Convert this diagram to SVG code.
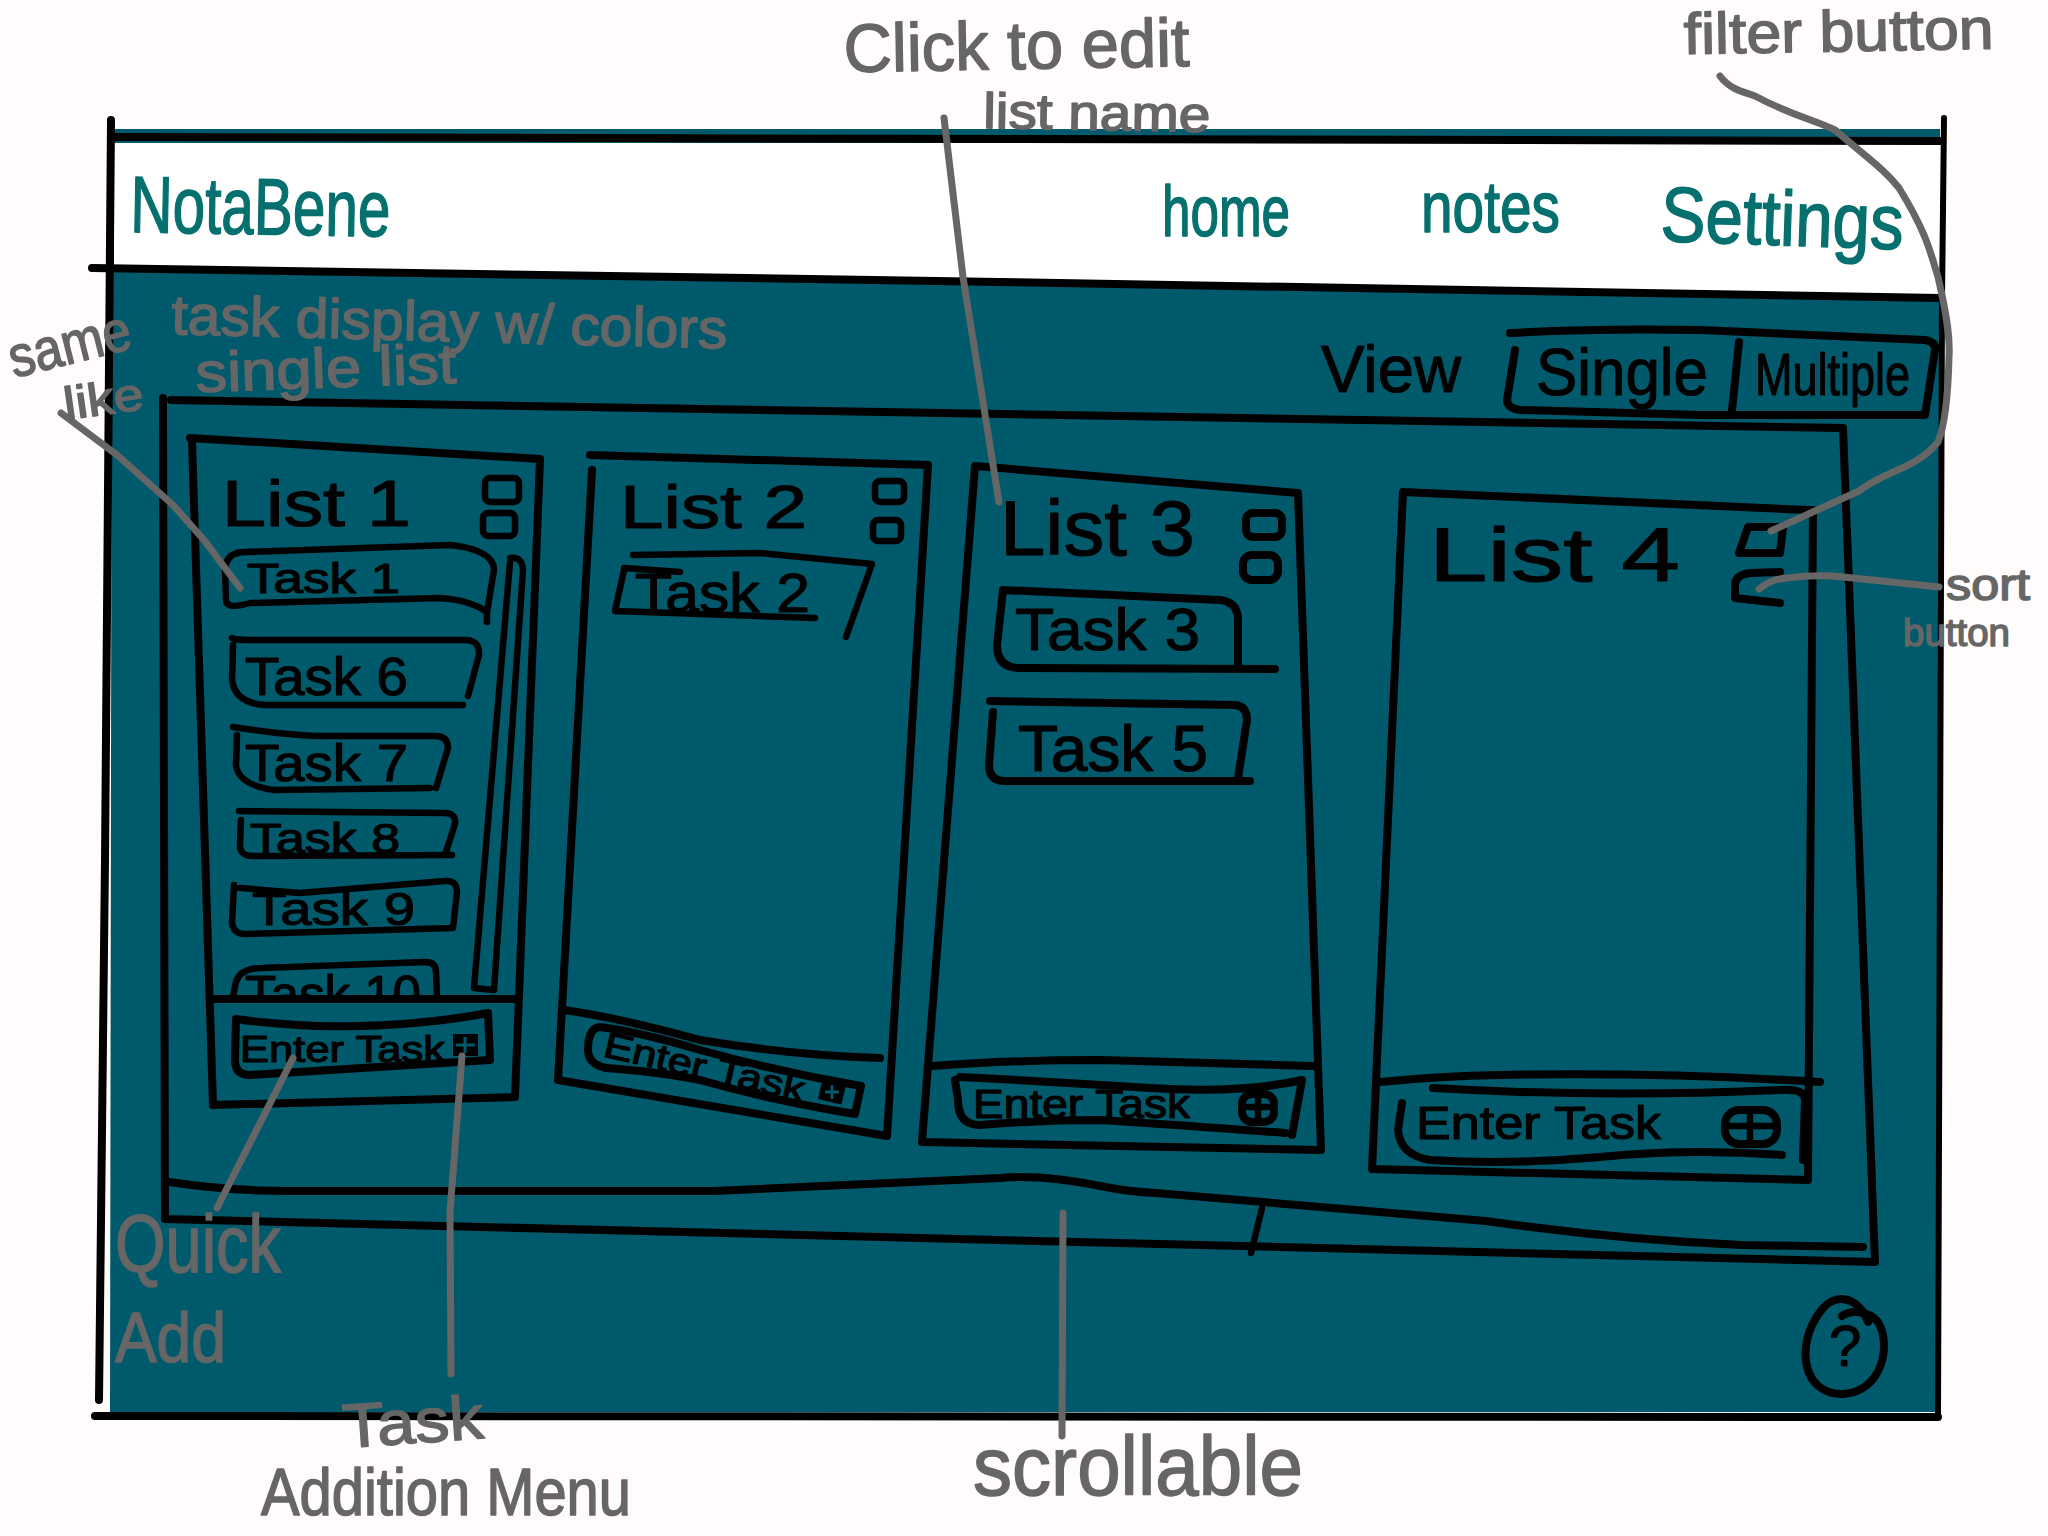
<svg xmlns="http://www.w3.org/2000/svg" width="2048" height="1536" viewBox="0 0 2048 1536">
<defs>
<style>
.ln{fill:none;stroke:#000;stroke-width:8;stroke-linecap:round;stroke-linejoin:round}
.th{stroke-width:6.5}
.an{fill:none;stroke:#666;stroke-width:7;stroke-linecap:round;stroke-linejoin:round}
text{font-family:"Liberation Sans",Arial,sans-serif;stroke-linejoin:round}
.k{fill:#000;stroke:#000;stroke-width:1.2}
.g{fill:#666;stroke:#666;stroke-width:1.5}
.t{fill:#06706f;stroke:#06706f;stroke-width:1.5}
</style>
<clipPath id="clipTask10"><rect x="220" y="950" width="240" height="47"/></clipPath>
</defs>
<rect id="page" width="2048" height="1536" fill="#fffcfb"/>
<g id="frame">
<path d="M112 129H1940V1412H110Z" fill="#005a6b"/>
<path d="M114 143L1942 143V298L114 268Z" fill="#fff"/>
<path class="ln" d="M112 137L1942 141"/>
<path class="ln" d="M111 120L105 860L99 1400"/>
<path class="ln" style="stroke-width:6" d="M1944 118L1942 300L1938 1416"/>
<path class="ln" style="stroke-width:8" d="M95 1416L1938 1417"/>
<path class="ln" style="stroke-width:8" d="M92 268L1000 282L1940 298"/>
</g>
<g id="header">
<text class="t" transform="translate(130 232) rotate(1)" font-size="80" textLength="260" lengthAdjust="spacingAndGlyphs">NotaBene</text>
<text class="t" x="1162" y="236" font-size="72" textLength="128" lengthAdjust="spacingAndGlyphs">home</text>
<text class="t" x="1421" y="232" font-size="72" textLength="139" lengthAdjust="spacingAndGlyphs">notes</text>
<text class="t" transform="translate(1660 241) rotate(2)" font-size="78" textLength="243" lengthAdjust="spacingAndGlyphs">Settings</text>
</g>
<g id="view-toggle">
<text class="k" x="1321" y="392" font-size="66" textLength="140" lengthAdjust="spacingAndGlyphs">View</text>
<path class="ln" d="M1510 333Q1600 328 1700 330L1925 340Q1936 342 1935 350L1925 415L1700 415L1520 410Q1507 408 1507 400L1515 350"/>
<path class="ln" d="M1739 342L1732 410"/>
<text class="k" x="1536" y="395" font-size="66" textLength="172" lengthAdjust="spacingAndGlyphs">Single</text>
<text class="k" x="1755" y="395" font-size="60" textLength="155" lengthAdjust="spacingAndGlyphs">Multiple</text>
</g>
<g id="scroll-container">
<path class="ln" d="M171 400L1843 428L1875 1262L165 1219L163 398"/>
<path class="ln" d="M169 1182Q230 1191 287 1191L714 1191Q860 1185 1000 1178Q1040 1174 1100 1186Q1130 1192 1156 1193L1486 1221Q1620 1240 1742 1245L1863 1247"/>
<path class="ln th" d="M1262 1208L1251 1253"/>
</g>
<g id="list-1">
<path class="ln" d="M190 438L540 459L515 1097L213 1105L192 440"/>
<path class="ln" d="M214 999H513"/>
<rect class="ln th" x="485" y="478" width="34" height="24" rx="5"/>
<rect class="ln th" x="483" y="513" width="32" height="23" rx="5"/>
<text class="k" x="222" y="526" font-size="64" textLength="189" lengthAdjust="spacingAndGlyphs">List 1</text>
<g id="task-1"><path class="ln th" d="M487 622L487 612Q470 600 440 598L250 603Q226 610 226 600L225 570Q226 552 245 552L450 545Q494 550 494 570L487 612"/><text class="k" x="247" y="593" font-size="42" textLength="153" lengthAdjust="spacingAndGlyphs">Task 1</text></g>
<g id="task-6"><path class="ln th" d="M232 638Q235 640 250 640L465 640Q480 640 479 655L468 696M233 645L232 680Q235 703 265 705L463 705"/><text class="k" x="245" y="695" font-size="54" textLength="163" lengthAdjust="spacingAndGlyphs">Task 6</text></g>
<g id="task-7"><path class="ln th" d="M233 727Q300 737 330 736L435 736Q448 736 448 748L436 788M237 735L236 765Q238 785 275 790L430 788"/><text class="k" x="245" y="781" font-size="52" textLength="163" lengthAdjust="spacingAndGlyphs">Task 7</text></g>
<g id="task-8"><path class="ln th" d="M239 811L445 813Q456 813 455 824L445 855M241 820L240 845Q240 857 255 856L452 855"/><text class="k" x="250" y="853" font-size="42" textLength="150" lengthAdjust="spacingAndGlyphs">Task 8</text></g>
<g id="task-9"><path class="ln th" d="M240 888L300 893L445 881Q457 880 457 892L453 928M234 885L232 922Q233 934 245 934L453 928"/><text class="k" x="252" y="925" font-size="46" textLength="163" lengthAdjust="spacingAndGlyphs">Task 9</text></g>
<g id="task-10"><path class="ln th" d="M233 997L236 982Q240 968 262 968L425 962Q436 962 436 972L437 997"/><text class="k" x="245" y="1012" font-size="52" textLength="176" lengthAdjust="spacingAndGlyphs" clip-path="url(#clipTask10)">Task 10</text></g>
<path id="scrollbar" class="ln th" d="M510 562L474 988L494 990L523 570Q522 556 510 558"/>
<g id="enter-1"><path class="ln" d="M236 1019Q300 1028 360 1026Q430 1024 488 1013L490 1060Q400 1066 250 1075Q235 1075 235 1060Z"/><text class="k" x="240" y="1062" font-size="36" textLength="205" lengthAdjust="spacingAndGlyphs">Enter Task</text><rect x="453" y="1034" width="25" height="22" fill="#000"/><path d="M465 1037V1053M456 1045H475" stroke="#005a6b" stroke-width="3"/></g>
</g>
<g id="list-2">
<path class="ln" d="M590 455L928 465L887 1136L558 1080L592 470"/>
<path class="ln" d="M564 1010Q620 1018 700 1040Q790 1055 880 1058"/>
<rect class="ln th" x="875" y="481" width="29" height="21" rx="5"/>
<rect class="ln th" x="873" y="520" width="28" height="21" rx="5"/>
<text class="k" x="620" y="528" font-size="62" textLength="187" lengthAdjust="spacingAndGlyphs">List 2</text>
<g id="task-2"><path class="ln th" d="M633 555L760 553L872 564L846 637M624 570L615 611L815 618M624 568L680 572"/><text class="k" x="635" y="612" font-size="56" textLength="175" lengthAdjust="spacingAndGlyphs">Task 2</text></g>
<g id="enter-2"><path class="ln" d="M600 1027Q640 1032 700 1050Q780 1072 861 1086L855 1114Q770 1100 700 1080Q660 1072 606 1068Q588 1064 588 1050Q588 1028 600 1027Z"/><text class="k" transform="translate(602 1056) rotate(13)" font-size="36" textLength="205" lengthAdjust="spacingAndGlyphs">Enter Task</text><rect x="820" y="1082" width="24" height="20" fill="#000" transform="rotate(13 832 1092)"/><path d="M832 1085V1099M825 1092H839" stroke="#005a6b" stroke-width="3"/></g>
</g>
<g id="list-3">
<path class="ln" d="M975 466L1298 493L1321 1150L922 1142L975 466"/>
<path class="ln" d="M933 1066Q1010 1060 1100 1060L1312 1066"/>
<rect class="ln" x="1246" y="513" width="36" height="24" rx="7"/>
<rect class="ln" x="1243" y="555" width="35" height="25" rx="9"/>
<text class="k" x="1000" y="555" font-size="78" textLength="195" lengthAdjust="spacingAndGlyphs">List 3</text>
<g id="task-3"><path class="ln" d="M1003 590L1220 600Q1238 602 1238 620L1238 664M1003 590L997 645Q997 668 1020 668L1275 669"/><text class="k" x="1015" y="650" font-size="60" textLength="185" lengthAdjust="spacingAndGlyphs">Task 3</text></g>
<g id="task-5"><path class="ln" d="M990 701L1235 705Q1247 706 1247 720L1238 778M993 712L989 765Q989 781 1005 781L1250 781"/><text class="k" x="1018" y="771" font-size="64" textLength="190" lengthAdjust="spacingAndGlyphs">Task 5</text></g>
<g id="enter-3"><path class="ln" d="M960 1077Q1060 1082 1150 1088Q1240 1094 1302 1080L1292 1135M1285 1133Q1180 1125 1100 1120Q1040 1120 980 1125Q958 1125 958 1100L955 1080"/><text class="k" x="973" y="1118" font-size="40" textLength="217" lengthAdjust="spacingAndGlyphs">Enter Task</text><rect class="ln" x="1242" y="1094" width="32" height="28" rx="10"/><path class="ln th" d="M1258 1098V1118M1248 1107H1268"/></g>
</g>
<g id="list-4">
<path class="ln" d="M1403 492L1808 510L1813 510L1808 1180L1372 1169L1403 492"/>
<path class="ln" d="M1380 1082Q1440 1076 1500 1075Q1660 1072 1820 1082"/>
<path class="ln" d="M1748 527L1783 527L1780 553L1739 553Z"/>
<path class="ln" d="M1780 572L1750 573Q1735 575 1735 585L1735 598L1780 603"/>
<text class="k" x="1429" y="581" font-size="76" textLength="251" lengthAdjust="spacingAndGlyphs">List 4</text>
<g id="enter-4"><path class="ln" d="M1433 1088Q1600 1098 1780 1090Q1805 1088 1805 1100L1803 1160M1782 1155Q1690 1148 1600 1157Q1510 1165 1430 1160Q1400 1155 1398 1130L1402 1103"/><text class="k" x="1416" y="1139" font-size="46" textLength="245" lengthAdjust="spacingAndGlyphs">Enter Task</text><rect class="ln" x="1725" y="1110" width="52" height="34" rx="14"/><path class="ln th" d="M1750 1112V1143M1730 1126H1772"/></g>
</g>
<g id="help">
<path class="ln" d="M1868 1322C1860 1298 1835 1290 1820 1312C1795 1345 1802 1395 1843 1394C1882 1392 1892 1345 1878 1322C1868 1310 1850 1310 1842 1316"/>
<text class="k" x="1829" y="1366" font-size="58">?</text>
</g>
<g id="connectors">
<path class="an" d="M944 118L963 277L999 502"/>
<path class="an" d="M1720 76C1730 90 1745 92 1755 96C1790 115 1815 120 1835 130C1870 160 1885 170 1899 188C1925 230 1930 250 1938 277C1948 320 1950 340 1949 357C1948 400 1945 425 1938 442C1915 470 1885 470 1859 491L1771 531"/>
<path class="an" d="M1759 589C1770 580 1778 579 1787 578C1810 575 1825 575 1843 577L1939 587"/>
<path class="an" d="M61 413L117 455L173 505L204 540L240 588"/>
<path class="an" d="M293 1058L217 1208"/>
<path class="an" d="M462 1056L450 1212L451 1374"/>
<path class="an" d="M1063 1213L1062 1436"/>
</g>
<g id="annotations">
<text class="g" transform="translate(844 72) rotate(-1)" font-size="68" textLength="346" lengthAdjust="spacingAndGlyphs">Click to edit</text>
<text class="g" transform="translate(983 128) rotate(1)" font-size="50" textLength="227" lengthAdjust="spacingAndGlyphs">list name</text>
<text class="g" transform="translate(1684 54) rotate(-1)" font-size="58" textLength="310" lengthAdjust="spacingAndGlyphs">filter button</text>
<text class="g" x="1946" y="600" font-size="44" textLength="84" lengthAdjust="spacingAndGlyphs">sort</text>
<text class="g" x="1903" y="646" font-size="38" textLength="107" lengthAdjust="spacingAndGlyphs">button</text>
<text class="g" transform="translate(14 378) rotate(-14)" font-size="58" textLength="124" lengthAdjust="spacingAndGlyphs">same</text>
<text class="g" transform="translate(66 420) rotate(-8)" font-size="46" textLength="80" lengthAdjust="spacingAndGlyphs">like</text>
<text class="g" transform="translate(171 334) rotate(1.5)" font-size="56" textLength="556" lengthAdjust="spacingAndGlyphs">task display w/ colors</text>
<text class="g" transform="translate(196 392) rotate(-2)" font-size="56" textLength="261" lengthAdjust="spacingAndGlyphs">single list</text>
<text class="g" x="115" y="1272" font-size="82" textLength="166" lengthAdjust="spacingAndGlyphs">Quick</text>
<text class="g" x="115" y="1362" font-size="70" textLength="111" lengthAdjust="spacingAndGlyphs">Add</text>
<text class="g" transform="translate(344 1448) rotate(-4)" font-size="62" textLength="141" lengthAdjust="spacingAndGlyphs">Task</text>
<text class="g" x="261" y="1515" font-size="66" textLength="370" lengthAdjust="spacingAndGlyphs">Addition Menu</text>
<text class="g" x="973" y="1495" font-size="84" textLength="330" lengthAdjust="spacingAndGlyphs">scrollable</text>
</g>
</svg>
